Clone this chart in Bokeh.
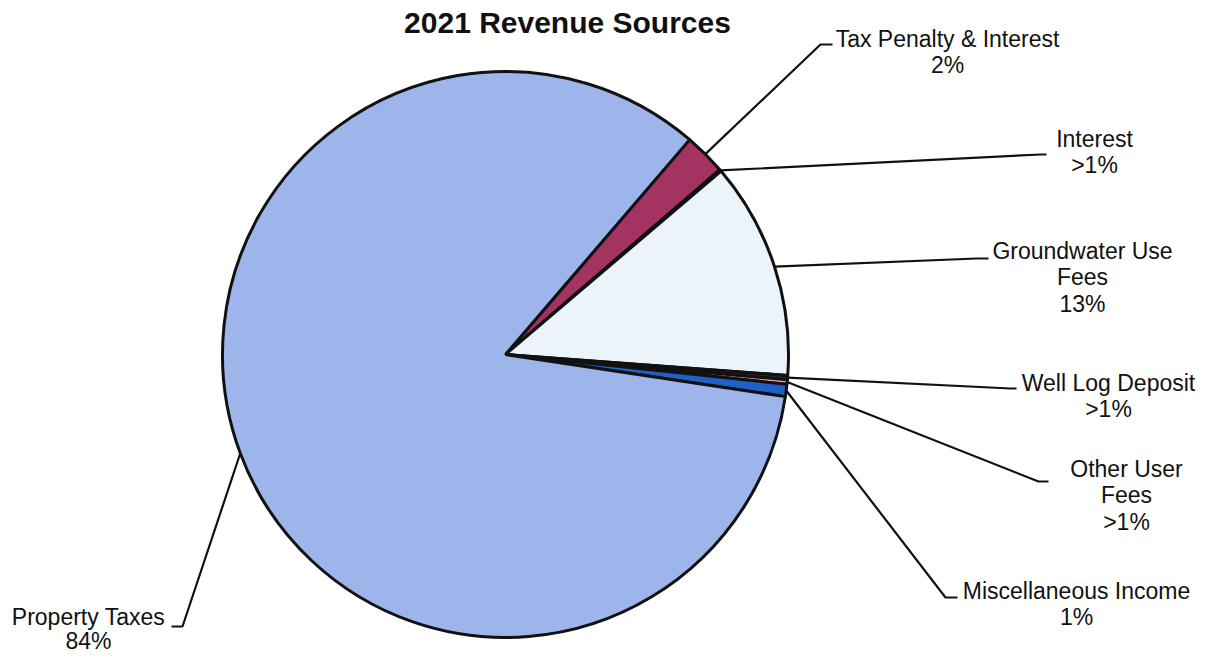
import numpy as np
from bokeh.plotting import figure
from bokeh.models import Range1d, ColumnDataSource
from bokeh.core.properties import value
from bokeh.embed import file_html
from bokeh.resources import INLINE

# ---------------- data ----------------
categories = ["Tax Penalty & Interest", "Interest", "Groundwater Use Fees",
              "Well Log Deposit", "Other User Fees", "Miscellaneous Income",
              "Property Taxes"]
values = [2.4, 0.1, 12.4, 0.25, 0.25, 0.7, 83.9]
pct_labels = ["2%", ">1%", "13%", ">1%", ">1%", "1%", "84%"]
label_lines = [["Tax Penalty & Interest"], ["Interest"], ["Groundwater Use", "Fees"],
               ["Well Log Deposit"], ["Other User", "Fees"], ["Miscellaneous Income"],
               ["Property Taxes"]]
colors = ["#A33462", "#2A2A50", "#EAF4FA", "#26264A", "#F2A5A8", "#1F62C6", "#9DB5EA"]
title_text = "2021 Revenue Sources"

# ---------------- layout (screen px) ----------------
W, H = 1208, 658
def X(px): return px
def Y(py): return H - py

cx, cy, R = X(505), Y(354), 283
start_deg = 49.4
label_center_px = [(947, 38), (1094, 138), (1082, 250), (1108, 382),
                   (1126, 468), (1076, 590), (88, 616)]
label_gap = [26.5, 26.5, 26.5, 26.5, 26.5, 26.5, 24.5]
elbow_px = [(820, 44), (1040, 154), (976, 258), (1010, 388),
            (1038, 481), (945, 597), (182, 626)]
end_px = [(832, 44), (1046, 154), (988, 258), (1016, 388),
          (1048, 481), (957, 597), (171, 626)]
font = "Liberation Sans"

p = figure(width=W, height=H, x_range=Range1d(0, W), y_range=Range1d(0, H),
           output_backend="svg", toolbar_location=None, min_border=0)
p.axis.visible = False
p.grid.visible = False
p.outline_line_color = None
p.background_fill_color = "white"

vals = np.array(values, dtype=float)
frac = vals / vals.sum()
cum = np.cumsum(frac)
prev = np.concatenate([[0.0], cum[:-1]])
a0 = np.radians(start_deg)
slice_start = a0 - prev * 2 * np.pi
slice_end = a0 - cum * 2 * np.pi
mid = (slice_start + slice_end) / 2

src = ColumnDataSource(dict(start=slice_end, end=slice_start, color=colors, name=categories))
p.wedge(x=cx, y=cy, radius=R, start_angle="start", end_angle="end",
        fill_color="color", line_color="#111111", line_width=3, source=src)

# leader lines
xs, ys = [], []
for i in range(len(values)):
    ex = cx + R * np.cos(mid[i])
    ey = cy + R * np.sin(mid[i])
    xs.append([ex, X(elbow_px[i][0]), X(end_px[i][0])])
    ys.append([ey, Y(elbow_px[i][1]), Y(end_px[i][1])])
p.multi_line(xs=xs, ys=ys, line_color="#111111", line_width=2.2)

# labels
tx, ty, tt = [], [], []
for i in range(len(values)):
    lx, ly = label_center_px[i]
    lines = label_lines[i] + [pct_labels[i]]
    for k, s in enumerate(lines):
        tx.append(X(lx))
        ty.append(Y(ly + k * label_gap[i]))
        tt.append(s)
p.text(x=tx, y=ty, text=tt, text_align="center", text_baseline="middle",
       text_font=value(font), text_font_size="23px", text_color="#111111")

p.text(x=[X(567)], y=[Y(22)], text=[title_text], text_align="center",
       text_baseline="middle", text_font=value(font), text_font_size="30px",
       text_font_style="bold", text_color="#111111")

open("out.html", "w").write(file_html(p, INLINE))
